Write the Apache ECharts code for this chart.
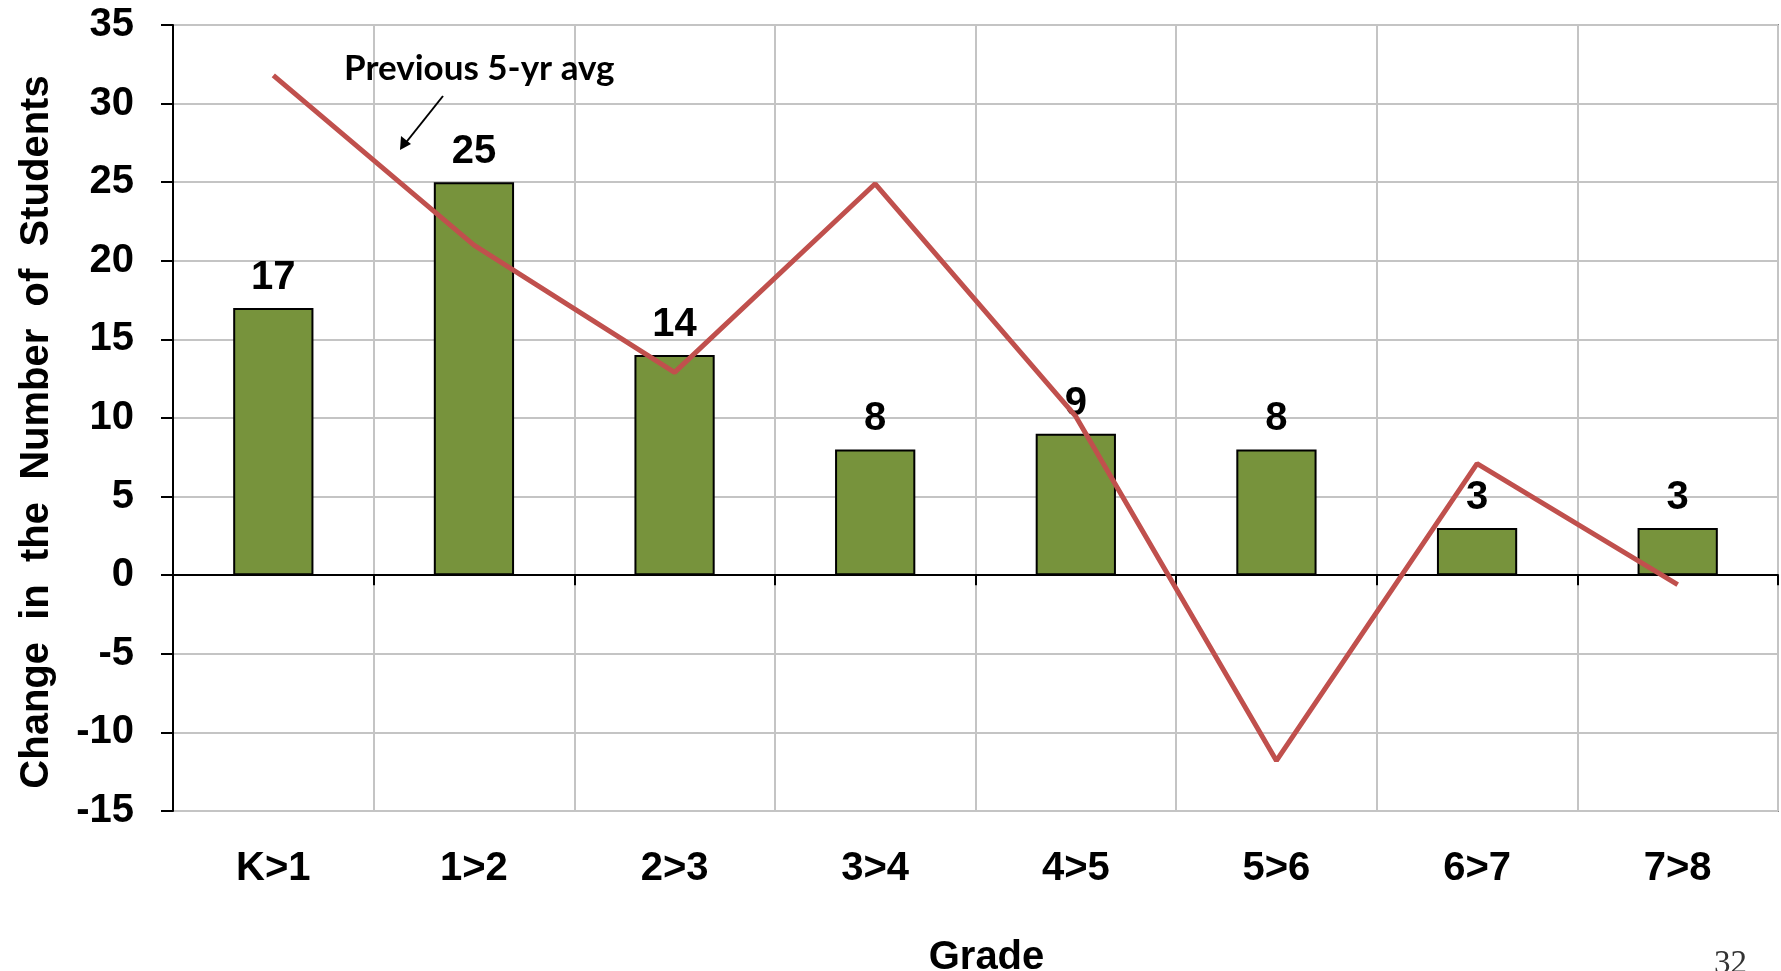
<!DOCTYPE html>
<html>
<head>
<meta charset="utf-8">
<script src="https://cdn.jsdelivr.net/npm/echarts@6/dist/echarts.min.js"></script>
<style>
html,body{margin:0;padding:0;background:#fff;}
#chart{width:1781px;height:971px;}
</style>
</head>
<body>
<div id="chart"></div>
<script>
// 年级变化数据
var grades = ['K>1', '1>2', '2>3', '3>4', '4>5', '5>6', '6>7', '7>8'];
var changeValues = [17, 25, 14, 8, 9, 8, 3, 3];
var prevAvgValues = [31.8, 21.0, 12.9, 24.9, 10.1, -11.8, 7.1, -0.6];
var yTicks = { min: -15, max: 35, step: 5 };

var font = 'Liberation Sans, Arial, sans-serif';
var chart = echarts.init(document.getElementById('chart'));

chart.setOption({
  backgroundColor: '#fff',
  animation: false,
  grid: {
    left: 173, right: 3, top: 25, bottom: 160,
    outerBoundsMode: 'none',
    show: true, borderColor: '#888', borderWidth: 2
  },
  xAxis: [
    {
      type: 'category',
      data: grades,
      position: 'bottom',
      axisLine: { onZero: true, lineStyle: { color: '#000', width: 2 } },
      axisTick: { show: true, length: 10, lineStyle: { color: '#000', width: 2 } },
      axisLabel: { show: false },
      splitLine: { show: true, lineStyle: { color: '#c4c4c4', width: 2 } }
    },
    {
      type: 'category',
      data: grades,
      position: 'bottom',
      axisLine: { show: false, onZero: false },
      axisTick: { show: false },
      splitLine: { show: false },
      axisLabel: { margin: 38, color: '#000', fontFamily: font, fontWeight: 'bold', fontSize: 40 },
      name: 'Grade',
      nameLocation: 'middle',
      nameGap: 127,
      nameTextStyle: { color: '#000', fontFamily: font, fontWeight: 'bold', fontSize: 40, padding: [0, 0, 0, 22] }
    }
  ],
  yAxis: {
    type: 'value',
    min: yTicks.min, max: yTicks.max, interval: yTicks.step,
    axisLine: { show: true, lineStyle: { color: '#000', width: 2 } },
    axisTick: { show: true, length: 12, lineStyle: { color: '#000', width: 2 } },
    axisLabel: { margin: 39, color: '#000', fontFamily: font, fontWeight: 'bold', fontSize: 40 },
    splitLine: { show: true, lineStyle: { color: '#c4c4c4', width: 2 } },
    name: 'Change  in  the  Number  of  Students',
    nameLocation: 'middle',
    nameGap: 116,
    nameTextStyle: { color: '#000', fontFamily: font, fontWeight: 'bold', fontSize: 40, padding: [0, 28, 0, 0] }
  },
  series: [
    {
      name: 'Change',
      type: 'bar',
      xAxisIndex: 0,
      data: changeValues,
      barWidth: '40%',
      itemStyle: { color: '#77933c', borderColor: '#000', borderWidth: 2 },
      label: {
        show: true, position: 'top', distance: 10,
        color: '#000', fontFamily: font, fontWeight: 'bold', fontSize: 40
      },
      z: 2
    },
    {
      name: 'Previous 5-yr avg',
      type: 'line',
      xAxisIndex: 0,
      data: prevAvgValues,
      symbol: 'none',
      lineStyle: { color: '#c0504d', width: 5 },
      z: 3
    }
  ],
  graphic: [
    {
      type: 'text', left: 344, top: 51, z: 10,
      style: { text: 'Previous 5-yr avg', fill: '#000', font: 'bold 35px Lato, "Open Sans", sans-serif' }
    },
    {
      type: 'line', z: 10,
      shape: { x1: 443, y1: 96, x2: 404, y2: 145 },
      style: { stroke: '#000', lineWidth: 2 }
    },
    {
      type: 'polygon', z: 10,
      shape: { points: [[400, 150], [401, 136], [411, 144]] },
      style: { fill: '#000' }
    },
    {
      type: 'text', left: 1714, top: 948, z: 10,
      style: { text: '32', fill: '#333', font: '33px "Liberation Serif", serif' }
    }
  ]
});
</script>
</body>
</html>
